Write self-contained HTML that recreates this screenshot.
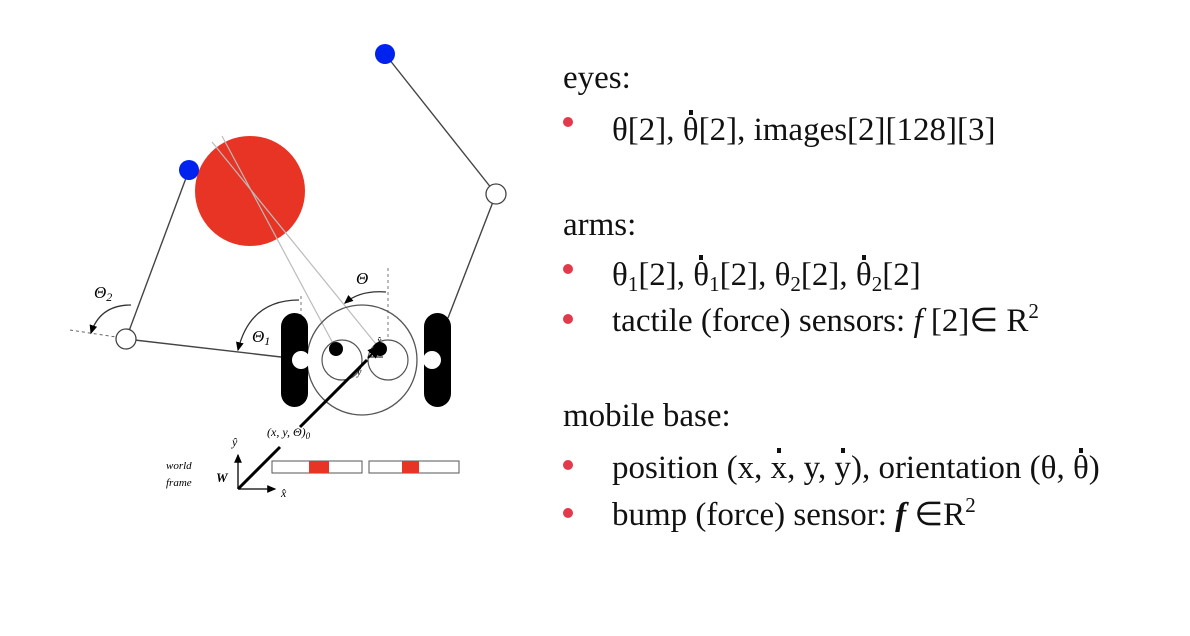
<!DOCTYPE html>
<html><head><meta charset="utf-8"><style>
body{margin:0;background:#fff;width:1190px;height:636px;overflow:hidden;position:relative;font-family:"Liberation Serif",serif;}
.t{position:absolute;font-size:33px;color:#111;white-space:nowrap;line-height:1;}
.b{position:absolute;width:10px;height:10px;border-radius:50%;background:#e23a4a;}
sub{font-size:21px;vertical-align:-6px;line-height:0}
sup{font-size:21px;vertical-align:13px;line-height:0}
.d{position:relative;display:inline-block}
.d:before{content:"";position:absolute;left:50%;top:-4px;width:4px;height:5px;margin-left:-2px;background:#111}
</style></head><body>
<svg width="1190" height="636" style="position:absolute;left:0;top:0">
<defs><marker id="a" markerWidth="8" markerHeight="8" refX="6" refY="4" orient="auto"><path d="M0,1 L7,4 L0,7z" fill="#000"/></marker></defs>
<circle cx="250" cy="191" r="55" fill="#e83424"/>
<line x1="212" y1="142" x2="380" y2="349" stroke="#bbb" stroke-width="1.2"/>
<line x1="222" y1="136" x2="336" y2="349" stroke="#bbb" stroke-width="1.2"/>
<g stroke="#444" stroke-width="1.4" fill="none">
<line x1="126" y1="339" x2="189" y2="170"/>
<line x1="126" y1="339" x2="281" y2="357"/>
<line x1="448" y1="318" x2="496" y2="194"/>
<line x1="496" y1="194" x2="385" y2="54"/>
</g>
<line x1="70" y1="330" x2="116" y2="337" stroke="#666" stroke-dasharray="3,3"/>
<line x1="301" y1="296" x2="301" y2="360" stroke="#777" stroke-dasharray="3,3"/>
<line x1="388" y1="268" x2="388" y2="340" stroke="#777" stroke-dasharray="3,3"/>
<circle cx="362" cy="360" r="55" fill="none" stroke="#555" stroke-width="1.3"/>
<circle cx="342" cy="360" r="20" fill="none" stroke="#555" stroke-width="1.2"/>
<circle cx="388" cy="360" r="20" fill="none" stroke="#555" stroke-width="1.2"/>
<circle cx="336" cy="349" r="7" fill="#000"/>
<circle cx="380" cy="349" r="7" fill="#000"/>
<rect x="281" y="313" width="27" height="94" rx="13.5" fill="#000"/>
<rect x="424" y="313" width="27" height="94" rx="13.5" fill="#000"/>
<circle cx="301" cy="360" r="9" fill="#fff"/>
<circle cx="432" cy="360" r="9" fill="#fff"/>
<circle cx="126" cy="339" r="10" fill="#fff" stroke="#444" stroke-width="1.3"/>
<circle cx="496" cy="194" r="10" fill="#fff" stroke="#444" stroke-width="1.3"/>
<circle cx="189" cy="170" r="10" fill="#0022ee"/>
<circle cx="385" cy="54" r="10" fill="#0022ee"/>
<g stroke="#333" stroke-width="1.3" fill="none" marker-end="url(#a)">
<path d="M386,292 Q360,290 345,303"/>
<path d="M299,300 Q250,300 238,350"/>
<path d="M131,305 Q100,305 91,333"/>
</g>
<line x1="238" y1="489" x2="280" y2="447" stroke="#000" stroke-width="3"/>
<line x1="300" y1="427" x2="367" y2="360" stroke="#000" stroke-width="3"/>
<line x1="368" y1="358" x2="380" y2="346" stroke="#000" stroke-width="2" marker-end="url(#a)"/>
<line x1="368" y1="357" x2="383" y2="357" stroke="#000" stroke-width="1"/>
<line x1="238" y1="489" x2="238" y2="455" stroke="#000" stroke-width="1.3" marker-end="url(#a)"/>
<line x1="238" y1="489" x2="275" y2="489" stroke="#000" stroke-width="1.3" marker-end="url(#a)"/>
<rect x="272" y="461" width="90" height="12" fill="#fff" stroke="#555"/>
<rect x="309" y="461" width="20" height="12" fill="#e83424"/>
<rect x="369" y="461" width="90" height="12" fill="#fff" stroke="#555"/>
<rect x="402" y="461" width="17" height="12" fill="#e83424"/>
<g font-family="Liberation Serif" font-style="italic" fill="#000">
<text x="356" y="284" font-size="17">Θ</text>
<text x="252" y="342" font-size="17">Θ<tspan font-size="12" dy="3">1</tspan></text>
<text x="94" y="298" font-size="17">Θ<tspan font-size="12" dy="3">2</tspan></text>
<text x="267" y="436" font-size="12">(x, y, Θ)<tspan font-size="9" dy="3">0</tspan></text>
<text x="166" y="469" font-size="11">world</text>
<text x="166" y="486" font-size="11">frame</text>
<text x="216" y="482" font-size="13" font-weight="bold">W</text>
<text x="232" y="446" font-size="12">ŷ</text>
<text x="281" y="497" font-size="12">x̂</text>
<text x="357" y="375" font-size="10">ŷ</text>
<text x="377" y="344" font-size="10">x̂</text>
</g>
</svg>
<div class="t" style="left:563px;top:62px">eyes:</div>
<div class="b" style="left:563px;top:117px"></div>
<div class="t" style="left:612px;top:114px">θ[2], <span class="d">θ</span>[2], images[2][128][3]</div>
<div class="t" style="left:563px;top:209px">arms:</div>
<div class="b" style="left:563px;top:264px"></div>
<div class="t" style="left:612px;top:259px">θ<sub>1</sub>[2], <span class="d">θ</span><sub>1</sub>[2], θ<sub>2</sub>[2], <span class="d">θ</span><sub>2</sub>[2]</div>
<div class="b" style="left:563px;top:314px"></div>
<div class="t" style="left:612px;top:305px">tactile (force) sensors: <i>f</i> [2]∈ R<sup>2</sup></div>
<div class="t" style="left:563px;top:400px">mobile base:</div>
<div class="b" style="left:563px;top:460px"></div>
<div class="t" style="left:612px;top:452px">position (x, <span class="d">x</span>, y, <span class="d">y</span>), orientation (θ, <span class="d">θ</span>)</div>
<div class="b" style="left:563px;top:508px"></div>
<div class="t" style="left:612px;top:499px">bump (force) sensor: <b><i>f</i></b> ∈R<sup>2</sup></div>
</body></html>
